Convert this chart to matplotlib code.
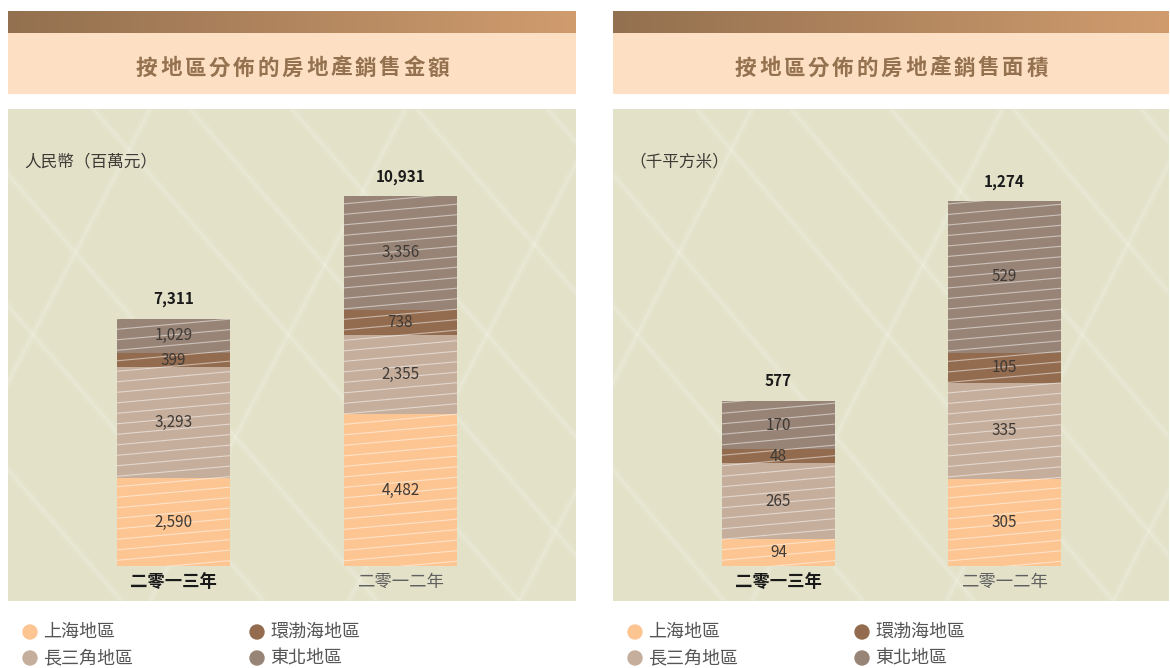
import numpy as np
import matplotlib
matplotlib.use("Agg")
import matplotlib.pyplot as plt
from matplotlib.collections import LineCollection
from matplotlib.patches import Ellipse
from matplotlib.transforms import blended_transform_factory

plt.rcParams['font.family'] = ['Noto Sans CJK TC', 'DejaVu Sans']

# data
years = ['二零一三年', '二零一二年']
regions = ['上海地區', '長三角地區', '環渤海地區', '東北地區']
colors = ['#fdc592', '#c6ae9c', '#936c4f', '#978476']

sales_amount = {  # 人民幣(百萬元)
    '上海地區': [2590, 4482],
    '長三角地區': [3293, 2355],
    '環渤海地區': [399, 738],
    '東北地區': [1029, 3356],
}
amount_total = [7311, 10931]

sales_area = {  # 千平方米
    '上海地區': [94, 305],
    '長三角地區': [265, 335],
    '環渤海地區': [48, 105],
    '東北地區': [170, 529],
}
area_total = [577, 1274]

W, H = 1170, 668
fig = plt.figure(figsize=(W / 100, H / 100), dpi=100)
fig.patch.set_facecolor('white')


def fx(x):
    return x / W


def fy(y):
    return 1 - y / H


def panel(x0, x1, title, unit, data, totals, centers, top_px):
    # header gradient bar
    hax = fig.add_axes([fx(x0), fy(33), fx(x1 - x0), (33 - 11) / H])
    grad = np.linspace(0, 1, 256).reshape(1, -1)
    c0 = np.array([0x93, 0x70, 0x4f]) / 255
    c1 = np.array([0xd0, 0x9c, 0x6e]) / 255
    img = c0[None, None, :] * (1 - grad[..., None]) + c1[None, None, :] * grad[..., None]
    hax.imshow(img, aspect='auto', extent=[0, 1, 0, 1])
    hax.axis('off')

    # title band
    tax = fig.add_axes([fx(x0), fy(94), fx(x1 - x0), (94 - 33) / H])
    tax.set_facecolor('#fde0c4')
    tax.set_xticks([]); tax.set_yticks([])
    for s in tax.spines.values():
        s.set_visible(False)
    pitch = 24.3
    cx = (x0 + x1) / 2 + 0.5
    start = cx - pitch * (len(title) - 1) / 2
    for i, ch in enumerate(title):
        fig.text(fx(start + i * pitch), fy(68), ch, ha='center', va='center',
                 fontsize=15.5, fontweight='bold', color='#94714f')

    # chart area
    ax = fig.add_axes([fx(x0), fy(601), fx(x1 - x0), (601 - 109) / H])
    ax.set_facecolor('#e3e2c9')
    for s in ax.spines.values():
        s.set_visible(False)
    ax.set_xticks([]); ax.set_yticks([])

    # faint texture streaks (mostly falling to the right, some rising)
    tex = []
    for k in [-0.55, -0.3, -0.1, 0.15, 0.32, 0.5, 0.72, 0.95]:
        tex.append([(k, 1), (k + 0.75, 0)])
    for k in [-0.2, 0.25, 0.6, 0.9]:
        tex.append([(k, 0), (k + 0.45, 1)])
    ax.add_collection(LineCollection(tex, colors='white', linewidths=2.0,
                                     alpha=0.16, transform=ax.transAxes, zorder=0))
    ax.add_collection(LineCollection(tex, colors='white', linewidths=6.0,
                                     alpha=0.06, transform=ax.transAxes, zorder=0))

    spacing = centers[1] - centers[0]
    bar_w = 113 / spacing
    ax.set_xlim(-(centers[0] - x0) / spacing, 1 + (x1 - centers[1]) / spacing)
    scale = (566 - top_px) / max(totals)
    ax.set_ylim(-(601 - 566) / scale, (566 - 109) / scale)

    x = np.arange(len(years))
    bottom = np.zeros(len(years))
    bars = []
    for reg, col in zip(regions, colors):
        vals = np.array(data[reg], dtype=float)
        bc = ax.bar(x, vals, bar_w, bottom=bottom, color=col, zorder=2)
        for rect, v, b in zip(bc, vals, bottom):
            bars.append(rect)
            ax.text(rect.get_x() + rect.get_width() / 2, b + v / 2, f'{int(v):,}',
                    ha='center', va='center', fontsize=11, color='#3f3a36', zorder=4)
        bottom += vals

    # hatch lines
    ax_w_px = x1 - x0
    ax_h_px = 601 - 109
    slope = 0.09 * ax_w_px / ax_h_px
    step = 10.5 / ax_h_px
    segs = [[(0, y0), (1, y0 + slope)] for y0 in np.arange(-0.3, 1.1, step)]
    for rect in bars:
        lc = LineCollection(segs, colors='white', linewidths=0.8, alpha=0.5,
                            transform=ax.transAxes, zorder=3)
        ax.add_collection(lc)
        lc.set_clip_path(rect)

    for xi, t in zip(x, totals):
        ax.annotate(f'{t:,}', (xi, t), xytext=(0, 14), textcoords='offset points',
                    ha='center', va='center', fontsize=11, fontweight='bold',
                    color='#1a1a1a', zorder=4)

    tr = blended_transform_factory(ax.transData, ax.transAxes)
    ypos = (601 - 582) / ax_h_px
    ax.text(0, ypos, years[0], transform=tr, ha='center', va='center',
            fontsize=12.5, fontweight='bold', color='#1a1a1a')
    ax.text(1, ypos, years[1], transform=tr, ha='center', va='center',
            fontsize=12.5, color='#606060')

    fig.text(fx(x0 + 16), fy(162), unit, ha='left', va='center',
             fontsize=12, color='#3f3a36')

    # legend
    lx = [x0 + 22, x0 + 249]
    ly = [632, 658]
    order = [(0, 0), (1, 0), (0, 1), (1, 1)]
    for (r, c), reg, col in zip(order, regions, colors):
        fig.patches.append(Ellipse((fx(lx[c]), fy(ly[r])), 14 / W, 14 / H,
                                   color=col, transform=fig.transFigure))
        fig.text(fx(lx[c] + 13), fy(ly[r]), reg, ha='left', va='center',
                 fontsize=13, color='#555555')


panel(8, 576, '按地區分佈的房地產銷售金額', '人民幣（百萬元）',
      sales_amount, amount_total, [173.5, 400.5], 196)
panel(613, 1169, '按地區分佈的房地產銷售面積', '（千平方米）',
      sales_area, area_total, [778.5, 1004.5], 201)

fig.savefig('out.png', dpi=100, facecolor='white')
